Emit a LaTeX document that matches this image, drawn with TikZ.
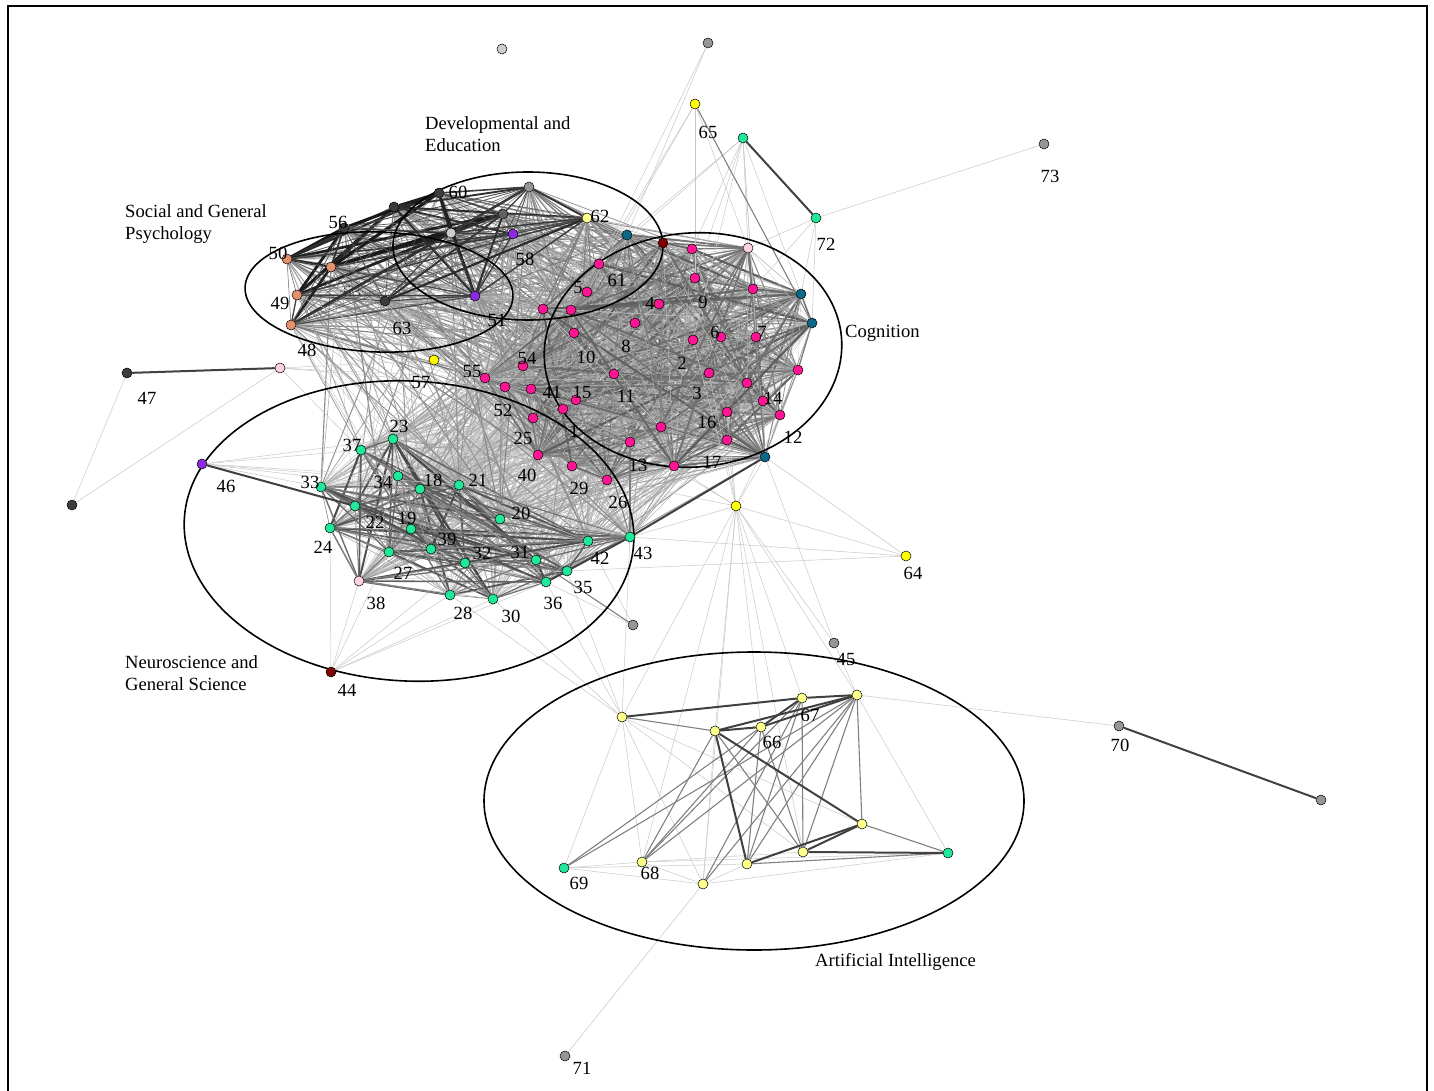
\documentclass[tikz,border=0pt]{standalone}
\usepackage{fontspec}
\setmainfont{Liberation Serif}
\pgfdeclarelayer{bg}
\pgfsetlayers{bg,main}

\definecolor{mag}{RGB}{255,20,147}
\definecolor{grn}{RGB}{32,232,152}
\definecolor{tealc}{RGB}{10,105,135}
\definecolor{dred}{RGB}{128,0,0}
\definecolor{ylw}{RGB}{255,255,0}
\definecolor{lylw}{RGB}{255,255,140}
\definecolor{lpink}{RGB}{255,208,228}
\definecolor{purp}{RGB}{138,43,226}
\definecolor{salm}{RGB}{230,145,110}
\definecolor{dgry}{RGB}{60,60,60}
\definecolor{mgry}{RGB}{150,150,150}
\definecolor{lgry}{RGB}{205,205,205}

\tikzset{
  dot/.style={circle,draw=black,line width=0.5pt,inner sep=0pt,minimum size=10pt},
  lbl/.style={inner sep=0pt,font=\fontsize{18.6}{22}\selectfont},
  grp/.style={inner sep=0pt,anchor=west,align=left,font=\fontsize{18.6}{22}\selectfont},
  ring/.style={draw=black,line width=1.6pt},
  elite/.style={draw=black!22,line width=0.5pt},
  emid/.style={draw=black!50,line width=1.1pt},
  edark/.style={draw=black!75,line width=2pt},
}

\newcommand\cogset{n1,n2,n3,n4,n5,n6,n7,n8,n9,n10,n11,n12,n13,n14,n15,n16,n17,n25,n26,n29,n40,n41,n52,n54,n55,n61,ma,mb,mc,md,me,mf,mg,mh,ta,tb,tc,td,ra,pa}
\newcommand\neuset{n18,n19,n20,n21,n22,n23,n24,n27,n28,n30,n31,n32,n33,n34,n35,n36,n37,n38,n39,n42,n43}
\newcommand\socset{n49,n50,n53,sd,n56,sa,n60,sc,sb,n59,n58,n51,n63,n62}

\newcommand\meshpairs[4]{%
  \foreach \a [count=\i] in #1 {%
    \foreach \b [count=\j] in #1 {%
      \ifnum\j>\i
        \pgfmathsetmacro\w{rnd}%
        \pgfmathtruncatemacro\sh{#2+\w*(#3-#2)}%
        \pgfmathsetmacro\lw{0.35+\w*\w*#4}%
        \draw[black!\sh,line width=\lw pt] (\a) -- (\b);
      \fi
    }%
  }%
}
\newcommand\crosspairs[6]{%
  \foreach \a in #1 {%
    \foreach \b in #2 {%
      \pgfmathrandominteger{\p}{1}{100}%
      \ifnum\p<#3
        \pgfmathsetmacro\w{rnd}%
        \pgfmathtruncatemacro\sh{#4+\w*(#5-#4)}%
        \pgfmathsetmacro\lw{0.3+\w*#6}%
        \draw[black!\sh,line width=\lw pt] (\a) -- (\b);
      \fi
    }%
  }%
}

\begin{document}
\begin{tikzpicture}[x=1pt,y=-1pt]
  \useasboundingbox (0,0) rectangle (1434,1091);
  \pgfmathsetseed{11}

  \foreach \n/\x/\y in {n1/563/409,n2/693/340,n3/709/373,n4/659/304,n5/587/292,n6/721/337,
    n7/756/337,n8/635/323,n9/695/278,n10/574/333,n11/614/374,n12/780/415,n13/630/442,
    n14/763/401,n15/576/400,n16/727/412,n17/727/440,n25/533/418,n26/607/480,n29/572/466,
    n40/538/455,n41/531/389,n52/505/387,n54/523/366,n55/485/378,n61/599/264,ma/692/249,
    mb/753/289,mc/543/309,md/571/310,me/798/370,mf/747/383,mg/661/427,mh/674/466}
    { \node[dot,fill=mag] (\n) at (\x,\y) {}; }
  \foreach \n/\x/\y in {ta/627/235,tb/801/294,tc/812/323,td/765/457}
    { \node[dot,fill=tealc] (\n) at (\x,\y) {}; }
  \foreach \n/\x/\y in {ra/663/243,n44/331/672}
    { \node[dot,fill=dred] (\n) at (\x,\y) {}; }
  \foreach \n/\x/\y in {pa/748/248,n48/280/368,n38/359/581}
    { \node[dot,fill=lpink] (\n) at (\x,\y) {}; }
  \foreach \n/\x/\y in {n18/420/489,n19/411/529,n20/500/519,n21/459/485,n22/355/506,
    n23/393/439,n24/330/528,n27/389/552,n28/450/595,n30/493/599,n31/536/560,n32/465/563,
    n33/321/487,n34/398/476,n35/567/571,n36/546/582,n37/361/450,n39/431/549,n42/588/541,
    n43/630/537,ga/743/138,n72/816/218,n69/564/868,gf/948/853}
    { \node[dot,fill=grn] (\n) at (\x,\y) {}; }
  \foreach \n/\x/\y in {n46/202/464,n51/475/296,n58/513/234}
    { \node[dot,fill=purp] (\n) at (\x,\y) {}; }
  \foreach \n/\x/\y in {n50/287/259,n53/331/267,n49/297/295,sd/291/325}
    { \node[dot,fill=salm] (\n) at (\x,\y) {}; }
  \foreach \n/\x/\y in {n60/439/193,sa/394/207,n56/344/228,n63/385/301,gd/72/505,n47/127/373}
    { \node[dot,fill=dgry] (\n) at (\x,\y) {}; }
  \node[dot,fill=black!62] (sb) at (503,214) {};
  \foreach \n/\x/\y in {sc/529/187,gb/708/43,n73/1044/144,n45/834/643,n70/1119/726,
    gg/1321/800,n71/565/1056,ge/633/625}
    { \node[dot,fill=mgry] (\n) at (\x,\y) {}; }
  \foreach \n/\x/\y in {gc/502/49,n59/451/233}
    { \node[dot,fill=lgry] (\n) at (\x,\y) {}; }
  \foreach \n/\x/\y in {n65/695/104,n57/434/360,yb/736/506,n64/906/556}
    { \node[dot,fill=ylw] (\n) at (\x,\y) {}; }
  \foreach \n/\x/\y in {n62/587/218,aia/622/717,n67/802/698,aic/857/695,aib/715/731,
    n66/761/727,aid/862/824,aie/803/852,aif/747/864,n68/642/862,aih/703/884}
    { \node[dot,fill=lylw] (\n) at (\x,\y) {}; }

  \begin{pgfonlayer}{bg}
    \foreach \t/\x/\y in {53/352/292,59/413/258}
      { \node[lbl] (l\t) at (\x,\y) {\t}; }
    \crosspairs{\cogset}{\neuset}{50}{14}{40}{0.8}
    \crosspairs{\socset}{\cogset}{50}{18}{55}{1.0}
    \crosspairs{\socset}{\neuset}{22}{20}{48}{0.9}
    \meshpairs{\neuset}{20}{74}{2.0}
    \meshpairs{\cogset}{18}{64}{1.8}
    \meshpairs{\socset}{50}{92}{2.8}
    \foreach \a/\b/\s in {gd/n47/elite,gd/n48/elite,n72/n73/elite,n72/pa/elite,n72/tb/elite,
      n72/tc/elite,n72/mb/elite,ga/ma/elite,ga/n9/elite,ga/pa/elite,ga/mb/elite,ga/tb/elite,
      ga/n7/elite,ga/n2/elite,ga/n61/elite,ga/ta/elite,gb/ta/elite,gb/n61/elite,n65/n61/elite,
      n65/n5/elite,n65/pa/elite,n65/n9/elite,yb/n13/elite,yb/n17/elite,yb/td/elite,
      yb/n12/elite,yb/n16/elite,yb/mh/elite,yb/n3/elite,yb/n2/elite,yb/n26/elite,yb/n43/elite,
      yb/aia/elite,yb/n68/elite,yb/aib/elite,yb/n66/elite,yb/n67/elite,yb/aic/elite,
      yb/aie/elite,yb/aih/elite,yb/n64/elite,n64/td/elite,n64/n43/elite,n64/n35/elite,
      n45/td/elite,n45/yb/elite,n45/aic/elite,n70/aic/elite,n71/aih/elite,n46/n37/elite,
      n46/n23/elite,n46/n34/elite,n46/n21/elite,n46/n18/elite,n46/n33/elite,n44/n38/elite,
      n44/n24/elite,n44/n27/elite,n44/n28/elite,n44/n30/elite,n44/n36/elite,n44/n32/elite,
      n48/n57/elite,n48/n55/elite,n48/n52/elite,n48/n37/elite,n57/n55/elite,n57/n63/elite,
      n57/n49/elite,aia/n28/elite,aia/n30/elite,aia/n36/elite,aia/n43/elite,aia/n35/elite,
      aia/n69/elite,aia/n68/elite,aia/aih/elite,aia/aie/elite,aia/aid/elite,n69/n68/elite,
      n69/aih/elite,n68/aih/elite,n68/aie/elite,n68/gf/elite,aih/aif/elite,aih/gf/elite,
      aic/gf/elite,aib/aih/elite,n69/aif/elite,ge/n36/elite,ge/n42/elite,
      aia/aib/emid,aib/aie/emid,aib/n68/emid,aic/aid/emid,aic/aif/emid,aic/aie/emid,
      aic/n68/emid,aic/n69/emid,n66/n68/emid,n66/n69/emid,n66/aif/emid,n67/n68/emid,
      n67/aif/emid,aif/gf/emid,aid/gf/emid,n38/n24/emid,n38/n27/emid,n38/n28/emid,
      n13/n43/emid,ge/n31/emid,n66/aie/emid,n67/aie/emid,n67/aih/emid,aic/aih/emid,n65/tc/emid,
      n47/n48/edark,ga/n72/edark,n70/gg/edark,n46/n22/edark,aia/n67/edark,aib/n66/edark,
      aib/aic/edark,n66/n67/edark,n66/aic/edark,n67/aic/edark,aib/aif/edark,aib/aid/edark,
      aid/aif/edark,aid/aie/edark,aie/gf/edark,n36/n35/edark,n35/n43/edark,n43/td/edark}
      { \draw[\s] (\a) -- (\b); }
    \draw[ring,rotate around={-2:(379,292)}] (379,292) ellipse [x radius=134pt,y radius=60pt];
    \draw[ring] (528,246) ellipse [x radius=135pt,y radius=74pt];
    \draw[ring,rotate around={5:(693,350)}] (693,350) ellipse [x radius=149pt,y radius=117pt];
    \draw[ring,rotate around={-3:(409,531)}] (409,531) ellipse [x radius=225pt,y radius=150pt];
    \draw[ring] (754,801) ellipse [x radius=270pt,y radius=149pt];
  \end{pgfonlayer}

  \foreach \t/\x/\y in {1/574/431,2/682/363,3/697/393,4/650/303,5/578/288,6/715/332,
    7/762/332,8/626/346,9/703/302,10/586/357,11/626/396,12/793/437,13/638/465,14/773/398,
    15/582/392,16/707/422,17/712/462,18/433/480,19/407/518,20/521/513,21/478/480,22/375/522,
    23/399/426,24/323/547,25/523/438,26/618/502,27/403/573,28/463/613,29/579/488,30/511/616,
    31/520/552,32/482/553,33/310/482,34/383/482,35/583/587,36/553/603,37/352/445,38/376/603,
    39/447/539,40/527/475,41/552/392,42/600/558,43/643/553,44/347/690,45/846/659,46/226/486,
    47/147/398,48/307/350,49/280/303,50/278/253,51/497/320,52/503/410,54/527/358,55/472/372,
    56/338/222,57/421/382,58/525/259,60/458/192,61/617/280,62/600/216,63/402/328,64/913/573,
    65/708/132,66/772/742,67/810/715,68/650/873,69/579/883,70/1120/745,71/582/1068,
    72/826/244,73/1050/176}
    { \node[lbl] (l\t) at (\x,\y) {\t}; }

  \node[grp] (tdev) at (425,134) {Developmental and\\Education};
  \node[grp] (tsoc) at (125,224) {Social and General\\Psychology};
  \node[grp] (tcog) at (845,333) {Cognition};
  \node[grp] (tneu) at (125,673) {Neuroscience and\\General Science};
  \node[grp] (tai) at (815,962) {Artificial Intelligence};

  \draw[line width=1.8pt] (8,1100) -- (8,6) -- (1427,6) -- (1427,1100);
\end{tikzpicture}
\end{document}
